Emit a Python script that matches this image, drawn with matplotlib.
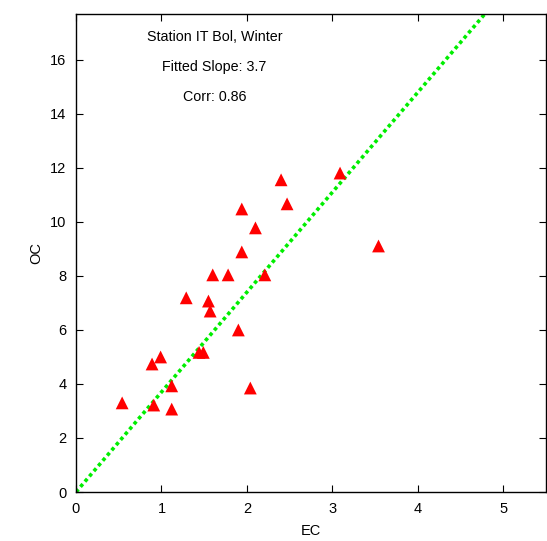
import numpy as np
import matplotlib
matplotlib.use('Agg')
import matplotlib.pyplot as plt
from matplotlib import rcParams

rcParams['font.family'] = ['Liberation Sans', 'DejaVu Sans']
rcParams['font.size'] = 10.5

# Data
ec = [0.54, 0.91, 1.12, 1.12, 0.89, 0.99, 1.29, 1.44, 1.49, 1.55, 1.57, 1.60,
      1.78, 1.90, 2.04, 1.94, 1.94, 2.10, 2.21, 2.40, 2.47, 3.09, 3.54]
oc = [3.30, 3.22, 3.07, 3.93, 4.74, 5.00, 7.19, 5.17, 5.17, 7.07, 6.70, 8.04,
      8.04, 6.00, 3.85, 8.89, 10.48, 9.78, 8.04, 11.56, 10.67, 11.81, 9.11]
slope = 3.7
corr = 0.86
station = "Station IT Bol, Winter"

fig = plt.figure(figsize=(5.47, 5.41), dpi=100)
ax = fig.add_axes([76/547, 1 - 492/541, (546-76)/547, (492-14)/541])

xfit = np.array([0, 6])
ax.plot(xfit, slope * xfit, color='#00ee00', linestyle=(0, (1, 0.9)), linewidth=2.6, zorder=1)
ax.scatter(ec, oc, marker='^', s=85, color='red', edgecolors='none', zorder=2)

ax.set_xlim(0, 5.5)
ax.set_ylim(0, 17.7)
ax.set_xticks(range(0, 6))
ax.set_yticks(range(0, 17, 2))
ax.tick_params(direction='in', top=True, right=True, length=5, width=0.8, pad=7)
for s in ax.spines.values():
    s.set_linewidth(1.0)

ax.set_xlabel('EC', labelpad=6)
ax.set_ylabel('OC', labelpad=5)

for y, txt in [(16.85, station), (15.72, f"Fitted Slope: {slope}"), (14.63, f"Corr: {corr}")]:
    ax.text(1.62, y, txt, ha='center', va='center', fontsize=10.3)

fig.savefig('out.png', dpi=100)
